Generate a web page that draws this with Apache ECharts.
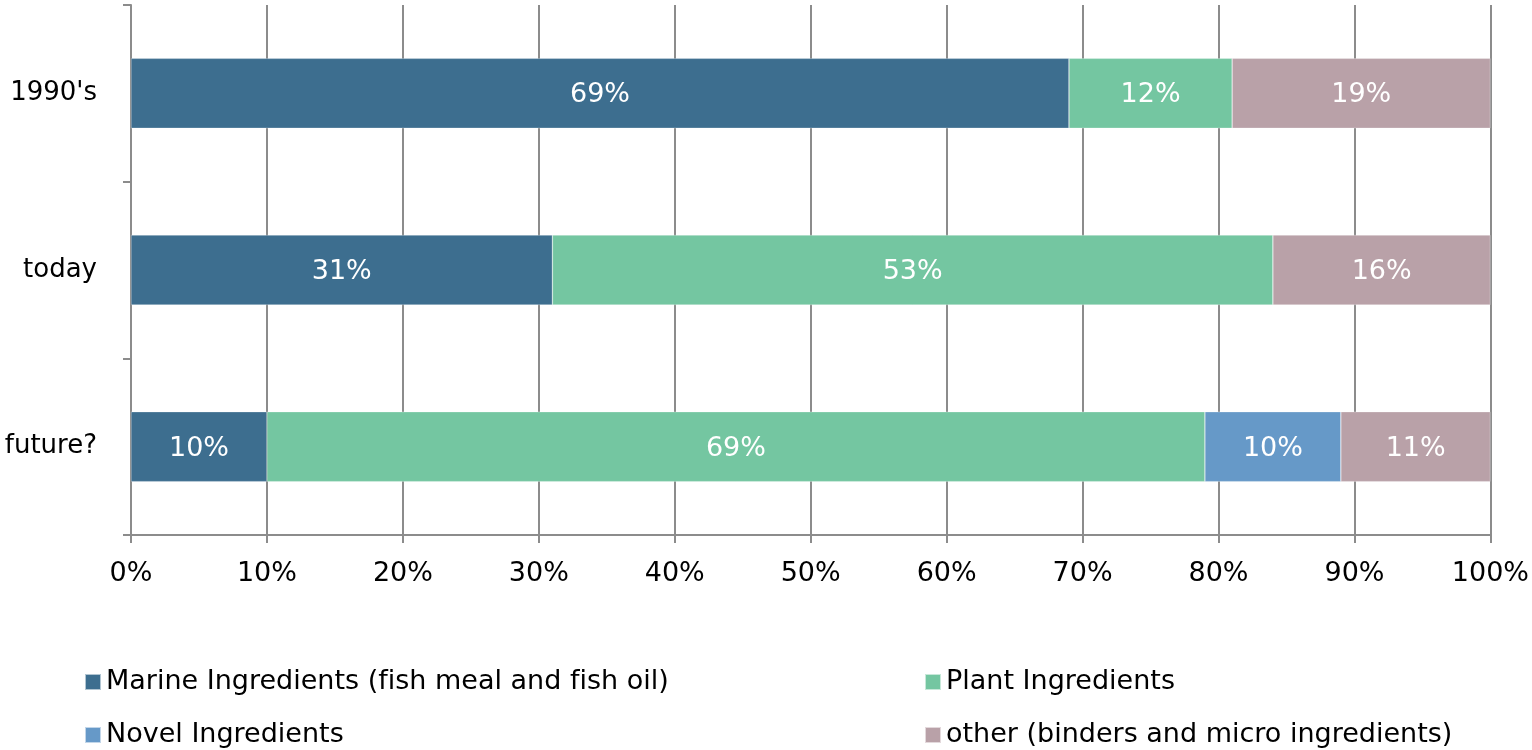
<!DOCTYPE html>
<html>
<head>
<meta charset="utf-8">
<script src="https://cdn.jsdelivr.net/npm/echarts@6/dist/echarts.min.js"></script>
<style>
  html, body { margin: 0; padding: 0; background: #ffffff; }
  #chart { width: 1532px; height: 750px; }
</style>
</head>
<body>
<div id="chart"></div>
<script>
// Feed composition by period (share of total, %)
const categories = ["1990's", 'today', 'future?'];
const marine = [69, 31, 10];
const plant = [12, 53, 69];
const novel = [0, 0, 10];
const other = [19, 16, 11];
const xTicks = [0, 10, 20, 30, 40, 50, 60, 70, 80, 90, 100];

const seriesNames = [
  'Marine Ingredients (fish meal and fish oil)',
  'Plant Ingredients',
  'Novel Ingredients',
  'other (binders and micro ingredients)'
];
const colors = ['#3d6e8f', '#74c6a1', '#6699c8', '#b9a1a8'];
const font = 'DejaVu Sans, Verdana, sans-serif';
const axisGray = '#8c8c8c';

function makeSeries(name, values, color) {
  return {
    name: name,
    type: 'bar',
    stack: 'total',
    barWidth: 70,
    data: values.map(v => (v === 0 ? null : v)),
    itemStyle: { color: color, borderColor: 'rgba(255,255,255,0.6)', borderWidth: 0.5 },
    label: {
      show: true,
      position: 'inside',
      offset: [0, 2],
      formatter: '{c}%',
      color: '#ffffff',
      fontFamily: font,
      fontSize: 27
    },
    emphasis: { disabled: true }
  };
}

// One legend block per entry, laid out as a 2x2 grid
const legendSlots = [
  { name: seriesNames[0], left: 79, top: 662 },
  { name: seriesNames[1], left: 919, top: 662 },
  { name: seriesNames[2], left: 79, top: 715 },
  { name: seriesNames[3], left: 919, top: 715 }
];

const chart = echarts.init(document.getElementById('chart'), null, { renderer: 'canvas' });
chart.setOption({
  animation: false,
  backgroundColor: '#ffffff',
  grid: { left: 131, right: 38, top: 5, bottom: 215, containLabel: false },
  xAxis: {
    type: 'value',
    min: xTicks[0],
    max: xTicks[xTicks.length - 1],
    interval: xTicks[1] - xTicks[0],
    axisLine: { show: true, lineStyle: { color: axisGray, width: 2 } },
    axisTick: { show: true, length: 8, lineStyle: { color: axisGray, width: 2 } },
    splitLine: { show: true, lineStyle: { color: axisGray, width: 2 } },
    axisLabel: {
      formatter: '{value}%',
      color: '#000000',
      fontFamily: font,
      fontSize: 27,
      margin: 25
    }
  },
  yAxis: {
    type: 'category',
    inverse: true,
    data: categories,
    axisLine: { show: true, lineStyle: { color: axisGray, width: 2 } },
    axisTick: { show: true, length: 8, alignWithLabel: false, lineStyle: { color: axisGray, width: 2 } },
    splitLine: { show: false },
    axisLabel: {
      color: '#000000',
      fontFamily: font,
      fontSize: 26,
      margin: 34
    }
  },
  legend: legendSlots.map(s => ({
    left: s.left,
    top: s.top,
    icon: 'rect',
    itemWidth: 16,
    itemHeight: 16,
    data: [s.name],
    // keep "fi" as two separate glyphs instead of a ligature
    formatter: name => name.replace(/fi/g, 'f\u200Ci'),
    textStyle: { color: '#000000', fontFamily: font, fontSize: 27, lineHeight: 30 }
  })),
  series: [
    makeSeries(seriesNames[0], marine, colors[0]),
    makeSeries(seriesNames[1], plant, colors[1]),
    makeSeries(seriesNames[2], novel, colors[2]),
    makeSeries(seriesNames[3], other, colors[3])
  ]
});
</script>
</body>
</html>
